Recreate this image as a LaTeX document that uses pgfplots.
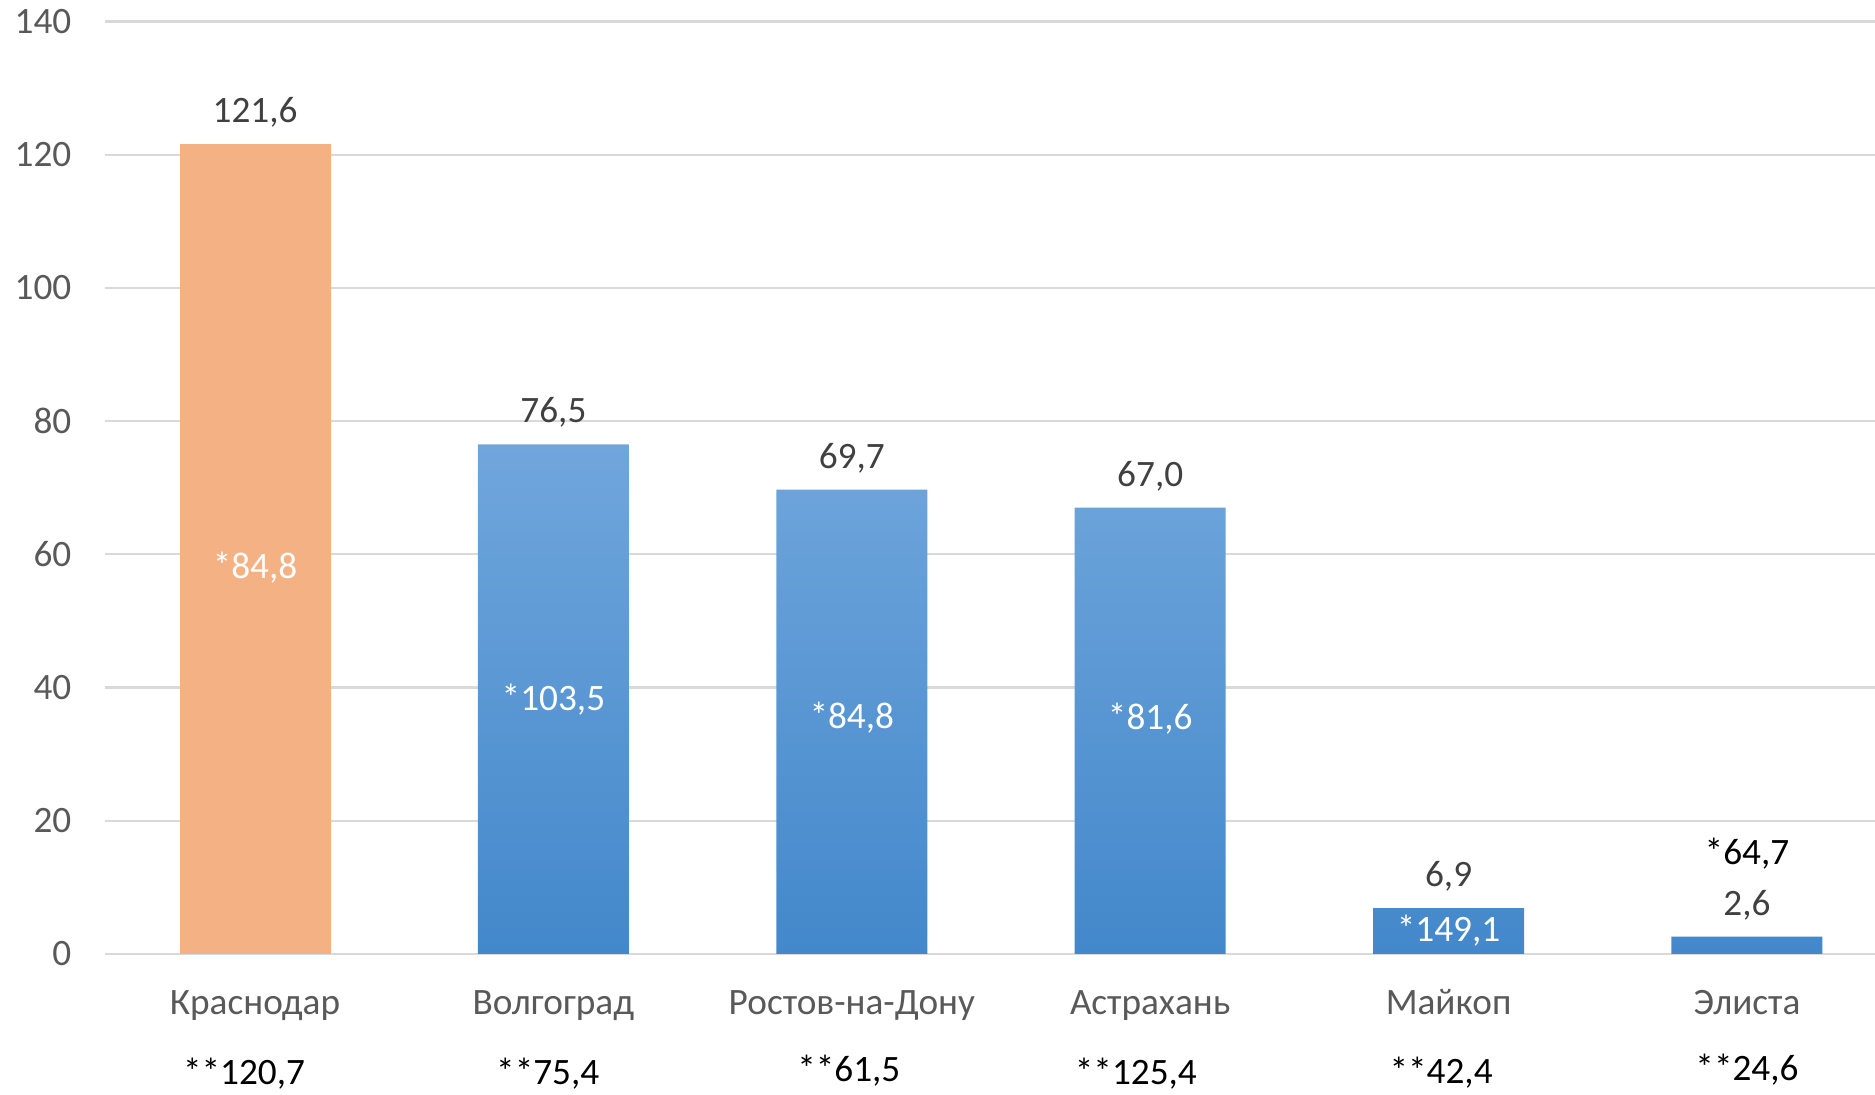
\documentclass[border=0pt]{standalone}
\usepackage{fontspec}
\setmainfont{Carlito}
\usepackage{pgfplots}
\pgfplotsset{compat=1.18}
\definecolor{gridc}{HTML}{D9D9D9}
\definecolor{tickc}{HTML}{595959}
\definecolor{labc}{HTML}{404040}
\definecolor{orangec}{HTML}{F4B183}
\definecolor{blueT}{HTML}{70A6DC}
\definecolor{blueB}{HTML}{4388CB}
\begin{document}
\fontsize{10.6pt}{12.5pt}\selectfont
\begin{tikzpicture}
\path[use as bounding box] (-10.5mm,-14.1mm) rectangle (177mm,95.4mm);
\begin{axis}[
  scale only axis, width=177mm, height=93.25mm,
  xmin=-0.5028, xmax=5.429, ymin=0, ymax=140,
  ytick={0,20,...,140}, xtick=\empty,
  ymajorgrids, major grid style={gridc, line width=0.6pt},
  axis line style={draw=none},
  major tick length=0pt,
  yticklabel style={anchor=east, inner sep=0pt, xshift=-3.3mm, text=tickc},
  /pgf/number format/assume math mode=true,
  clip=false,
  ybar, bar width=15.1mm, bar shift=0pt,
  point meta=explicit symbolic,
  nodes near coords,
  nodes near coords style={anchor=base, yshift=2.15mm, text=labc, inner sep=0pt},
]
\addplot[fill=orangec, draw=none] table[meta=label] {
x y label
0 121.6 121,6
};
\addplot[draw=none, top color=blueT, bottom color=blueB] table[meta=label] {
x y label
1 76.5 76,5
2 69.7 69,7
3 67.0 67,0
4 6.9 6,9
5 2.6 2,6
};
% values inside bars
\node[anchor=base, text=white, inner sep=0pt] at (axis cs:0,56.4) {*84,8};
\node[anchor=base, text=white, inner sep=0pt] at (axis cs:1,36.6) {*103,5};
\node[anchor=base, text=white, inner sep=0pt] at (axis cs:2,33.9) {*84,8};
\node[anchor=base, text=white, inner sep=0pt] at (axis cs:3,33.7) {*81,6};
\node[anchor=base, text=white, inner sep=0pt] at (axis cs:4,1.9) {*149,1};
\node[anchor=base, text=black, inner sep=0pt] at (axis cs:5,13.4) {*64,7};
% category labels
\foreach \i/\n in {0/Краснодар,1/Волгоград,2/Ростов-на-Дону,3/Астрахань,4/Майкоп,5/Элиста}{
  \edef\tmp{\noexpand\node[anchor=base, text=tickc, inner sep=0pt] at (axis cs:\i,-9.1) {\n};}\tmp
}
% bottom labels
\node[anchor=base, text=black, inner sep=0pt] at (axis cs:-0.037,-19.6) {**120,7};
\node[anchor=base, text=black, inner sep=0pt] at (axis cs:0.981,-19.6) {**75,4};
\node[anchor=base, text=black, inner sep=0pt] at (axis cs:1.99,-19.1) {**61,5};
\node[anchor=base, text=black, inner sep=0pt] at (axis cs:2.952,-19.6) {**125,4};
\node[anchor=base, text=black, inner sep=0pt] at (axis cs:3.975,-19.5) {**42,4};
\node[anchor=base, text=black, inner sep=0pt] at (axis cs:5.0,-19.0) {**24,6};
\end{axis}
\end{tikzpicture}
\end{document}
